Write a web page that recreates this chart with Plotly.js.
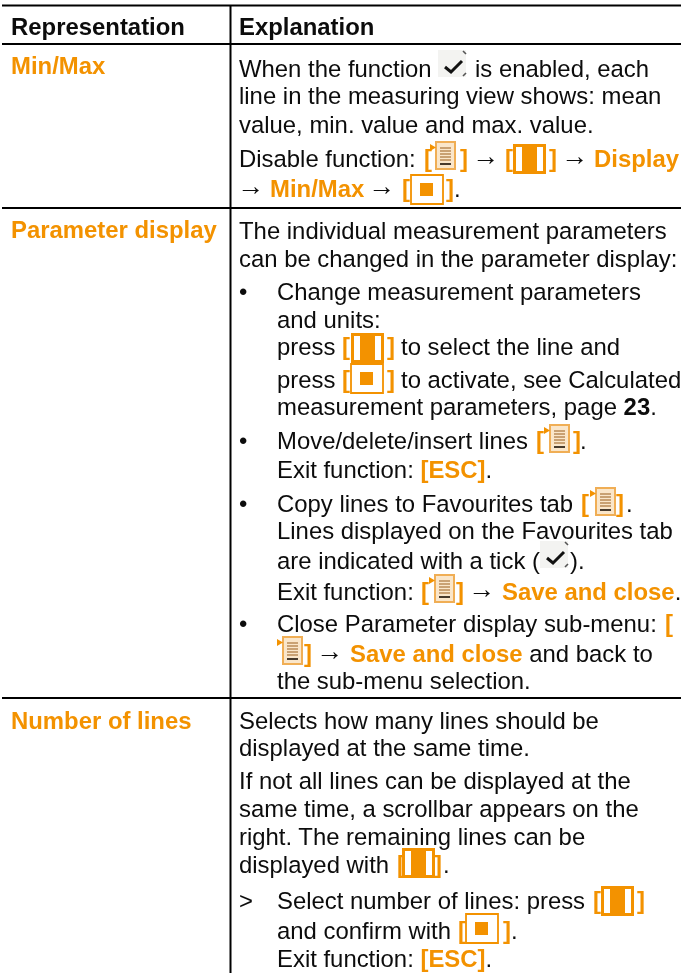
<!DOCTYPE html>
<html><head><meta charset="utf-8">
<script src="https://cdn.plot.ly/plotly-3.0.1.min.js"></script>
<style>html,body{margin:0;padding:0;background:#fff}#c{width:681px;height:973px;filter:blur(0.35px)}</style></head>
<body><div id="c"></div>
<script>
// ---- content ----
const headers = ["Representation", "Explanation"];
const rowLabels = ["Min/Max", "Parameter display", "Number of lines"];
// *...* marks orange bold runs
const bodyTexts = [
 "When the function","is enabled, each",
 "line in the measuring view shows: mean",
 "value, min. value and max. value.",
 "Disable function:","*[*","*]*","→","*[*","*]*","→","*Display*",
 "→","*Min/Max*","→","*[*","*]*",".",
 "The individual measurement parameters",
 "can be changed in the parameter display:",
 "•","Change measurement parameters",
 "and units:",
 "press","*[*","*]*","to select the line and",
 "press","*[*","*]*","to activate, see Calculated",
 "measurement parameters, page <b>23</b>.",
 "•","Move/delete/insert lines","*[*","*]*",".",
 "Exit function: *[ESC]*.",
 "•","Copy lines to Favourites tab","*[*","*]*",".",
 "Lines displayed on the Favourites tab",
 "are indicated with a tick (",").",
 "Exit function:","*[*","*]*","→","*Save and close*.",
 "•","Close Parameter display sub-menu:","*[*",
 "*]*","→","*Save and close* and back to",
 "the sub-menu selection.",
 "Selects how many lines should be",
 "displayed at the same time.",
 "If not all lines can be displayed at the",
 "same time, a scrollbar appears on the",
 "right. The remaining lines can be",
 "displayed with","*[*","*]*",".",
 ">","Select number of lines: press","*[*","*]*",
 "and confirm with","*[*","*]*",".",
 "Exit function: *[ESC]*."
];
// ---- placement (left edge and baseline of every text run above) ----
const bodyX = [
 238,474, 238, 238,
 238,422.5,458.5,471,503.5,548,560,593,
 235.5,269,367,400.5,445,453,
 238, 238,
 238,276, 276,
 276,340.5,385.5,400,
 276,340.5,385.5,400,
 276,
 238,276,534.5,571.5,579,
 276,
 238,276,579.5,614.5,625,
 276,
 276,569,
 276,419.5,454.5,467,501,
 238,276,663.5,
 302.5,315,349,
 276,
 238,238,238,238,238,
 238,395.5,432.5,442,
 238,276,591.5,635.5,
 276,456.5,501.5,510,
 276
];
const bodyY = [
 75,75, 102, 131,
 165,165,165,165,165,165,165,165,
 195,195,195,195,195,195,
 237, 265,
 298,298, 326,
 353,353,353,353,
 386,386,386,386,
 413,
 447,447,447,447,447,
 476,
 510,510,510,510,510,
 537,
 567,567,
 598,598,598,598,598,
 630,630,630,
 660,660,660,
 687,
 727,754,787,815,843,
 871,871,871,871,
 907,907,907,907,
 937,937,937,937,
 965
];
const headerX = [10, 238], headerY = [33, 33];
const labelX = [10, 10, 10], labelY = [72, 236, 727];
const hLines = [5.5, 44, 208, 698];
const vLine = 230.5;
// icon left, top per kind
const tickIcons = [[438,50],[540,541]];
const menuIcons = [[435,142],[549,425],[595,488],[434,575],[282,637]];
const selectIcons = [[513,144],[351,333],[402,848],[601,886]];
const okIcons = [[411,175],[351,364],[466,914]];

const ORANGE = "#F39200", INK = "#0c0c0c";
const FS = 23.9, ARROW_FS = 27, ARROW_DY = -3;
const FONT = "'Liberation Sans', Arial, sans-serif";

function rich(t){ return t.replace(/\*([^*]+)\*/g, '<span style="color:'+ORANGE+'"><b>$1</b></span>'); }
function ann(text,x,y,size){
  return {text:text,x:x,y:y-6.5,xref:"x",yref:"y",xanchor:"left",yanchor:"middle",showarrow:false,
          borderpad:0,align:"left",font:{family:FONT,size:size||FS,color:INK}};
}
const annotations = [];
headers.forEach((h,i)=>annotations.push(ann("<b>"+h+"</b>",headerX[i],headerY[i])));
rowLabels.forEach((h,i)=>annotations.push(ann(rich("*"+h+"*"),labelX[i],labelY[i])));
bodyTexts.forEach((t,i)=>{
  const isArrow = t==="→";
  annotations.push(ann(rich(t),bodyX[i],bodyY[i]+(isArrow?ARROW_DY:0),isArrow?ARROW_FS:FS));
});

const shapes = [];
function rect(x0,y0,x1,y1,fill,line,w){
  shapes.push({type:"rect",xref:"x",yref:"y",x0,y0,x1,y1,fillcolor:fill||"rgba(0,0,0,0)",
    line:{color:line||"rgba(0,0,0,0)",width:line?(w||1):0},layer:"above"});
}
function seg(x0,y0,x1,y1,c,w){
  shapes.push({type:"line",xref:"x",yref:"y",x0,y0,x1,y1,line:{color:c,width:w},layer:"above"});
}
hLines.forEach(y=>seg(2,y,681,y,"#000",2));
seg(vLine,5,vLine,973,"#000",2);

tickIcons.forEach(([x,y])=>{
  rect(x,y,x+28,y+27,"#f3f3f1");
  shapes.push({type:"path",xref:"x",yref:"y",layer:"above",
    path:`M${x+7},${y+17} L${x+13},${y+22} L${x+24},${y+11}`,line:{color:"#111",width:3}});
  seg(x+25,y+1,x+28,y+4,"#555",1.6); seg(x+25,y+26,x+28,y+23,"#555",1.6);
});
menuIcons.forEach(([x,y])=>{
  rect(x+1,y,x+20,y+27,"#fae6ca","#F0AE55",2);
  for(let i=0;i<5;i++) seg(x+5,y+6+i*3,x+16,y+6+i*3,"#a9743a",1.2);
  seg(x+5,y+22,x+16,y+22,"#33261a",1.8);
  shapes.push({type:"path",xref:"x",yref:"y",layer:"above",
    path:`M${x-5},${y+2} L${x+1},${y+5.5} L${x-5},${y+9} Z`,fillcolor:ORANGE,line:{width:0}});
});
selectIcons.forEach(([x,y])=>{
  rect(x,y,x+33,y+30,ORANGE);
  rect(x+3,y+3,x+9,y+27,"#fff");
  rect(x+24,y+3,x+30,y+27,"#fff");
});
okIcons.forEach(([x,y])=>{
  rect(x,y,x+32,y+29,"#fff",ORANGE,1.8);
  rect(x+9,y+8,x+22,y+21,ORANGE);
});

Plotly.newPlot("c",[],{
  width:681,height:973,margin:{l:0,r:0,t:0,b:0},
  paper_bgcolor:"#fff",plot_bgcolor:"#fff",showlegend:false,
  xaxis:{range:[0,681],visible:false,fixedrange:true},
  yaxis:{range:[973,0],visible:false,fixedrange:true},
  annotations:annotations,shapes:shapes
},{displayModeBar:false,staticPlot:true});
</script></body></html>
